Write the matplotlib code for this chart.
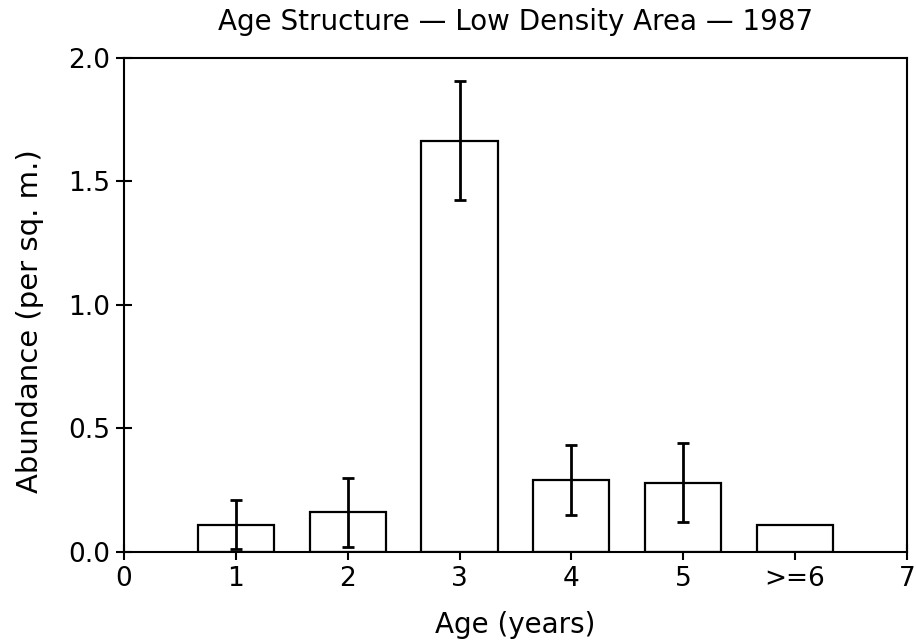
import matplotlib
matplotlib.use("Agg")
import matplotlib.pyplot as plt
import numpy as np

ages = [1, 2, 3, 4, 5, 6]
abundance = [0.11, 0.16, 1.665, 0.29, 0.28, 0.11]
errors = [0.10, 0.14, 0.24, 0.14, 0.16, 0.0]
xtick_pos = [0, 1, 2, 3, 4, 5, 6, 7]
xtick_labels = ["0", "1", "2", "3", "4", "5", ">=6", "7"]
ytick_pos = [0.0, 0.5, 1.0, 1.5, 2.0]

plt.rcParams['font.family'] = ['DejaVu Sans']

fig = plt.figure(figsize=(9.16, 6.42), dpi=100)
ax = fig.add_axes([0.1354, 0.1407, 0.8546, 0.7693])

ax.bar(ages, abundance, width=0.68, facecolor='white', edgecolor='black', linewidth=1.6, zorder=2)
err_x = [a for a, e in zip(ages, errors) if e > 0]
err_y = [v for v, e in zip(abundance, errors) if e > 0]
err_e = [e for e in errors if e > 0]
ax.errorbar(err_x, err_y, yerr=err_e, fmt='none', ecolor='black', elinewidth=2.0,
            capsize=4, capthick=2.0, zorder=3)

ax.set_xlim(0, 7)
ax.set_ylim(0, 2.0)
ax.set_xticks(xtick_pos)
ax.set_xticklabels(xtick_labels)
ax.set_yticks(ytick_pos)
ax.set_yticklabels([f"{v:.1f}" for v in ytick_pos])
ax.tick_params(direction='inout', length=12, width=1.5, labelsize=19, pad=4)
for s in ax.spines.values():
    s.set_linewidth(1.5)

ax.set_title("Age Structure \u2014 Low Density Area \u2014 1987", fontsize=20, pad=20)
ax.set_xlabel("Age (years)", fontsize=20)
ax.set_ylabel("Abundance (per sq. m.)", fontsize=21)
ax.xaxis.set_label_coords(0.5, -0.121)
ax.yaxis.set_label_coords(-0.102, 0.467)

fig.savefig("out.png", dpi=100)
